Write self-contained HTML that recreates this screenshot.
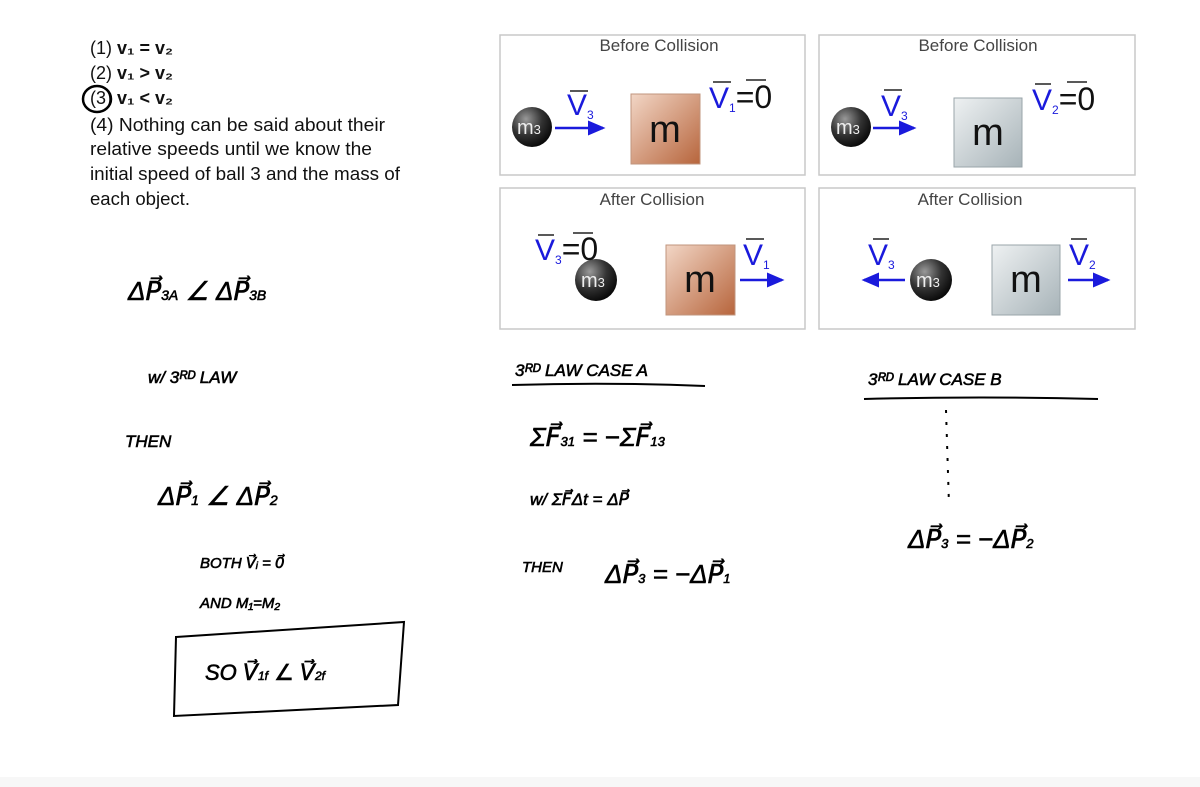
<!DOCTYPE html>
<html><head><meta charset="utf-8"><style>
html,body{margin:0;padding:0;background:#fff;}
svg{display:block}
.t{font-family:"Liberation Sans",sans-serif;font-size:18px;fill:#111}
.h{font-family:"Liberation Sans",sans-serif;fill:#444;font-size:17px}
.hw{font-family:"Liberation Sans",sans-serif;fill:#000;font-style:italic;stroke:#000;stroke-width:0.6}
.v{font-family:"Liberation Sans",sans-serif;fill:#1a1adc;font-size:30px}
.k{font-family:"Liberation Sans",sans-serif;fill:#111;font-size:32px}
.m{font-family:"Liberation Sans",sans-serif;fill:#111;font-size:38px}
.b{font-family:"Liberation Sans",sans-serif;fill:#eee;font-size:20px}
</style></head><body>
<svg width="1200" height="787" viewBox="0 0 1200 787" xmlns="http://www.w3.org/2000/svg">
<defs>
<radialGradient id="ball" cx="0.35" cy="0.3" r="0.8"><stop offset="0" stop-color="#999"/><stop offset="0.5" stop-color="#333"/><stop offset="1" stop-color="#000"/></radialGradient>
<linearGradient id="br" x1="0" y1="0" x2="1" y2="1"><stop offset="0" stop-color="#f2d6c6"/><stop offset="1" stop-color="#b7653c"/></linearGradient>
<linearGradient id="gr" x1="0" y1="0" x2="1" y2="1"><stop offset="0" stop-color="#eef1f2"/><stop offset="1" stop-color="#a7b3b8"/></linearGradient>
<marker id="ah" markerWidth="8" markerHeight="8" refX="6" refY="3" orient="auto"><path d="M0,0 L7,3 L0,6 z" fill="#1a1adc"/></marker>
</defs>
<rect width="1200" height="787" fill="#fff"/>
<rect x="0" y="777" width="1200" height="10" fill="#f7f7f7"/>
<text class="t" x="90" y="54">(1)  <tspan font-weight="bold">v₁ = v₂</tspan></text>
<text class="t" x="90" y="79">(2)  <tspan font-weight="bold">v₁ &gt; v₂</tspan></text>
<text class="t" x="90" y="104">(3)  <tspan font-weight="bold">v₁ &lt; v₂</tspan></text>
<ellipse cx="97" cy="99" rx="14" ry="13" fill="none" stroke="#000" stroke-width="2.5"/>
<text class="t" x="90" y="131" textLength="295" lengthAdjust="spacingAndGlyphs">(4)  Nothing can be said about their</text>
<text class="t" x="90" y="155" textLength="282" lengthAdjust="spacingAndGlyphs">relative speeds until we know the</text>
<text class="t" x="90" y="180" textLength="310" lengthAdjust="spacingAndGlyphs">initial speed of ball 3 and the mass of</text>
<text class="t" x="90" y="205" textLength="100" lengthAdjust="spacingAndGlyphs">each object.</text>
<g fill="none" stroke="#c8c8c8" stroke-width="1.5">
<rect x="500" y="35" width="305" height="140"/><rect x="819" y="35" width="316" height="140"/>
<rect x="500" y="188" width="305" height="141"/><rect x="819" y="188" width="316" height="141"/>
</g>
<text class="h" x="659" y="51" text-anchor="middle">Before Collision</text>
<text class="h" x="978" y="51" text-anchor="middle">Before Collision</text>
<text class="h" x="652" y="205" text-anchor="middle">After Collision</text>
<text class="h" x="970" y="205" text-anchor="middle">After Collision</text>
<g stroke="#1a1adc" stroke-width="2.5" marker-end="url(#ah)">
<line x1="555" y1="128" x2="603" y2="128"/><line x1="873" y1="128" x2="914" y2="128"/>
<line x1="740" y1="280" x2="782" y2="280"/><line x1="1068" y1="280" x2="1108" y2="280"/>
<line x1="905" y1="280" x2="864" y2="280"/>
</g>
<circle cx="532" cy="127" r="20" fill="url(#ball)"/><text class="b" x="517" y="134">m<tspan font-size="13">3</tspan></text>
<circle cx="851" cy="127" r="20" fill="url(#ball)"/><text class="b" x="836" y="134">m<tspan font-size="13">3</tspan></text>
<circle cx="596" cy="280" r="21" fill="url(#ball)"/><text class="b" x="581" y="287">m<tspan font-size="13">3</tspan></text>
<circle cx="931" cy="280" r="21" fill="url(#ball)"/><text class="b" x="916" y="287">m<tspan font-size="13">3</tspan></text>
<rect x="631" y="94" width="69" height="70" fill="url(#br)" stroke="#c0957e"/>
<rect x="954" y="98" width="68" height="69" fill="url(#gr)" stroke="#9aa5aa"/>
<rect x="666" y="245" width="69" height="70" fill="url(#br)" stroke="#c0957e"/>
<rect x="992" y="245" width="68" height="70" fill="url(#gr)" stroke="#9aa5aa"/>
<text class="m" x="665" y="142" text-anchor="middle">m</text>
<text class="m" x="988" y="145" text-anchor="middle">m</text>
<text class="m" x="700" y="292" text-anchor="middle">m</text>
<text class="m" x="1026" y="292" text-anchor="middle">m</text>
<g stroke="#222" stroke-width="1.5" fill="none">
<path d="M570 91h18M884 90h18M713 82h18M746 80h20M1035 84h16M1067 82h20M538 235h16M573 233h20M746 239h18M873 239h16M1071 239h16"/>
</g>
<text class="v" x="567" y="115">V<tspan font-size="12" dy="4">3</tspan></text>
<text class="v" x="881" y="116">V<tspan font-size="12" dy="4">3</tspan></text>
<text class="v" x="709" y="108">V<tspan font-size="12" dy="4">1</tspan><tspan class="k" dy="-4">=0</tspan></text>
<text class="v" x="1032" y="110">V<tspan font-size="12" dy="4">2</tspan><tspan class="k" dy="-4">=0</tspan></text>
<text class="v" x="535" y="260">V<tspan font-size="12" dy="4">3</tspan><tspan class="k" dy="-4">=0</tspan></text>
<text class="v" x="743" y="265">V<tspan font-size="12" dy="4">1</tspan></text>
<text class="v" x="868" y="265">V<tspan font-size="12" dy="4">3</tspan></text>
<text class="v" x="1069" y="265">V<tspan font-size="12" dy="4">2</tspan></text>
<text class="hw" x="128" y="300" font-size="26">ΔP⃗<tspan font-size="14">3A</tspan>  ∠  ΔP⃗<tspan font-size="14">3B</tspan></text>
<text class="hw" x="148" y="383" font-size="17">w/ 3ᴿᴰ LAW</text>
<text class="hw" x="125" y="447" font-size="17">THEN</text>
<text class="hw" x="158" y="505" font-size="26">ΔP⃗<tspan font-size="14">1</tspan>  ∠  ΔP⃗<tspan font-size="14">2</tspan></text>
<text class="hw" x="200" y="568" font-size="15">BOTH  V⃗ᵢ = 0⃗</text>
<text class="hw" x="200" y="608" font-size="15">AND   M₁=M₂</text>
<path d="M176 637 L404 622 L398 705 L174 716 Z" fill="none" stroke="#000" stroke-width="2"/>
<text class="hw" x="205" y="680" font-size="22">SO   V⃗<tspan font-size="12">1f</tspan>  ∠  V⃗<tspan font-size="12">2f</tspan></text>
<text class="hw" x="515" y="376" font-size="17">3ᴿᴰ LAW   CASE  A</text>
<path d="M512 385 Q610 382 705 386" stroke="#000" stroke-width="2" fill="none"/>
<text class="hw" x="530" y="446" font-size="26">ΣF⃗<tspan font-size="13">31</tspan> = −ΣF⃗<tspan font-size="13">13</tspan></text>
<text class="hw" x="530" y="505" font-size="17">w/  ΣF⃗Δt = ΔP⃗</text>
<text class="hw" x="522" y="572" font-size="15">THEN</text>
<text class="hw" x="605" y="583" font-size="26">ΔP⃗<tspan font-size="13">3</tspan> = −ΔP⃗<tspan font-size="13">1</tspan></text>
<text class="hw" x="868" y="385" font-size="17">3ᴿᴰ  LAW  CASE  B</text>
<path d="M864 399 Q980 396 1098 399" stroke="#000" stroke-width="2" fill="none"/>
<path d="M946 410 L949 505" stroke="#000" stroke-width="2" stroke-dasharray="3 9" fill="none"/>
<text class="hw" x="908" y="548" font-size="26">ΔP⃗<tspan font-size="13">3</tspan> = −ΔP⃗<tspan font-size="13">2</tspan></text>
</svg>
</body></html>
